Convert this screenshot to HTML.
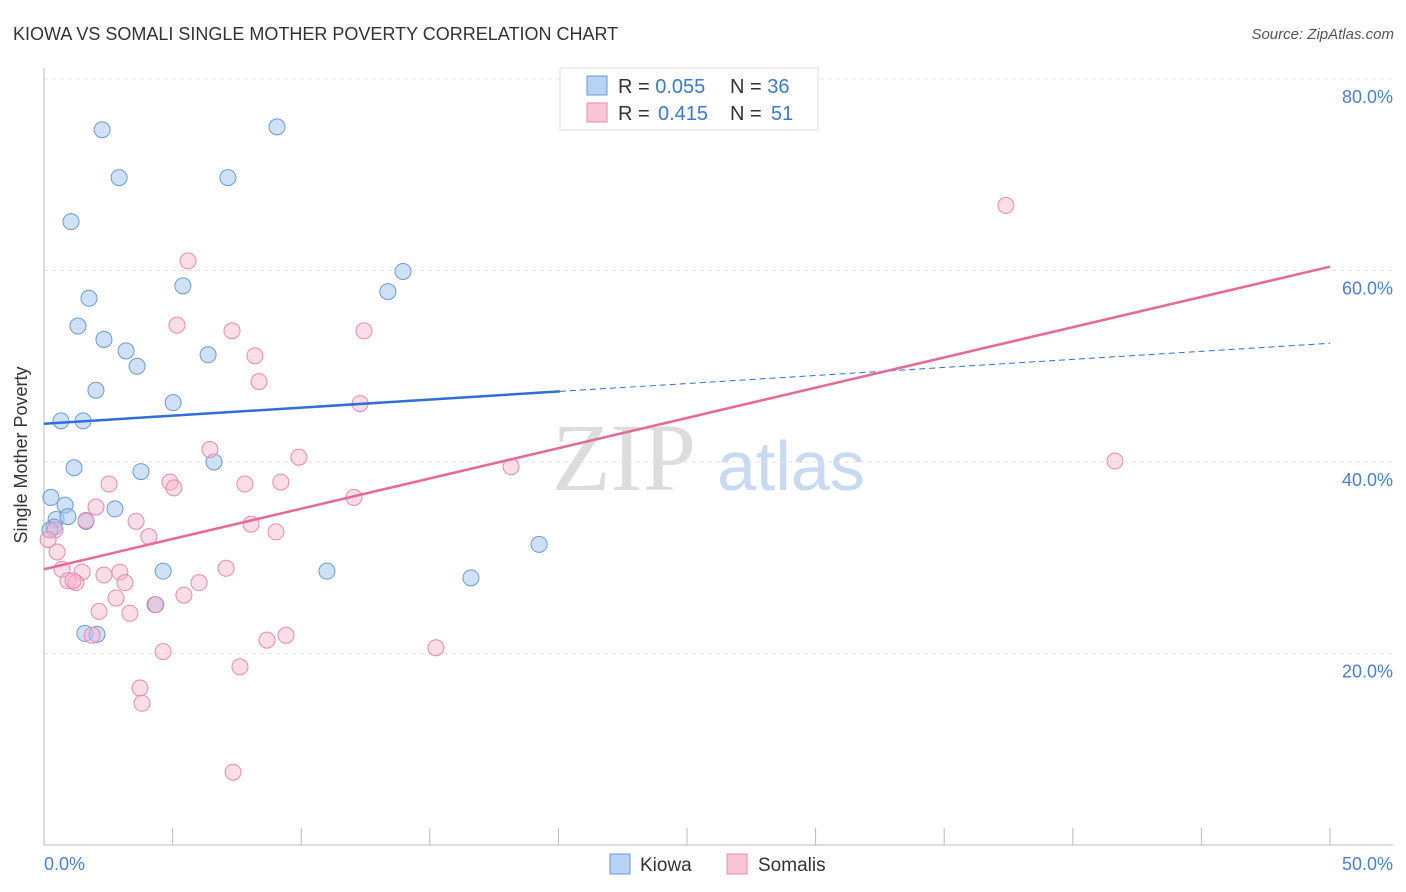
<!DOCTYPE html>
<html><head><meta charset="utf-8"><style>
body{margin:0;background:#fff;font-family:"Liberation Sans",sans-serif;}
svg{display:block}
</style></head><body>
<svg id="c" width="1406" height="892" xmlns="http://www.w3.org/2000/svg">
<text x="13" y="40" font-size="18" fill="#333">KIOWA VS SOMALI SINGLE MOTHER POVERTY CORRELATION CHART</text>
<text x="1394" y="39" font-size="15" fill="#555" font-style="italic" text-anchor="end">Source: ZipAtlas.com</text>
<g>
<text x="552" y="490" font-family="Liberation Serif,serif" font-size="96" fill="#dcdcdc">ZIP</text>
<text x="717" y="490" font-size="70" fill="#c9daf0">atlas</text>
</g>
<g id="grid"></g>
<line x1="44" y1="68" x2="44" y2="845" stroke="#bbb"/>
<line x1="44" y1="845" x2="1393" y2="845" stroke="#bbb"/>
<g id="ticks"></g>
<text x="27" y="455" font-size="18" fill="#333" text-anchor="middle" transform="rotate(-90 27 455)">Single Mother Poverty</text>
<text x="44" y="870" font-size="18" fill="#4a7fd4">0.0%</text>
<text x="1393" y="870" font-size="18" fill="#4a7fd4" text-anchor="end">50.0%</text>
<g id="pts"></g>
<g id="lines"></g>
<g>
<rect x="560" y="68" width="258" height="62" fill="#fff" stroke="#ddd"/>
<rect x="587" y="76" width="20" height="19" fill="#b8d2f4" stroke="#6a9ad8"/>
<rect x="587" y="103" width="20" height="19" fill="#f8c6d6" stroke="#e88aab"/>
<text x="618" y="93" font-size="20" fill="#333">R = <tspan fill="#3a78d6">0.055</tspan><tspan x="730">N = </tspan><tspan fill="#3a78d6">36</tspan></text>
<text x="618" y="120" font-size="20" fill="#333">R = <tspan fill="#3a78d6" x="658">0.415</tspan><tspan x="730">N = </tspan><tspan fill="#3a78d6" x="771">51</tspan></text>
</g>
<g>
<rect x="610" y="854" width="20" height="20" fill="#b8d2f4" stroke="#6a9ad8"/>
<text x="640" y="871" font-size="19" fill="#333">Kiowa</text>
<rect x="727" y="854" width="20" height="20" fill="#f8c6d6" stroke="#e88aab"/>
<text x="758" y="871" font-size="19" fill="#333">Somalis</text>
</g>
</svg>
<script>
const yTicks=[20,40,60,80];
const yTickLabels=["20.0%","40.0%","60.0%","80.0%"];
const xTicks=[0,5,10,15,20,25,30,35,40,45,50];
const kiowaX=[2.26,9.06,2.92,7.15,1.05,13.96,5.40,1.75,13.37,1.32,2.33,3.19,3.62,6.38,2.02,5.02,0.66,1.52,1.17,6.61,3.77,0.27,0.82,2.76,0.47,0.93,1.63,0.39,19.25,4.63,11.0,16.6,4.32,1.59,2.06,0.23];
const kiowaY=[74.7,75.0,69.7,69.7,65.1,59.9,58.4,57.1,57.8,54.2,52.8,51.6,50.0,51.2,47.5,46.2,44.3,44.3,39.4,40.0,39.0,36.3,35.5,35.1,34.0,34.3,33.8,33.2,31.4,28.6,28.6,27.9,25.1,22.1,22.0,32.9];
const somaliX=[37.4,5.6,5.17,7.31,12.44,8.2,8.36,12.29,6.45,9.91,18.16,41.64,2.53,4.9,5.05,7.81,9.21,12.05,2.02,3.58,8.05,9.02,4.08,1.63,0.51,0.43,0.7,1.48,2.33,2.95,7.08,0.93,1.24,1.13,3.15,6.03,5.44,2.8,2.14,3.34,4.35,1.87,9.41,8.67,4.63,15.24,7.62,3.73,3.81,7.35,0.16];
const somaliY=[66.8,61.0,54.3,53.7,53.7,51.1,48.4,46.1,41.3,40.5,39.5,40.1,37.7,37.9,37.3,37.7,37.9,36.3,35.3,33.8,33.5,32.7,32.2,33.9,30.6,32.9,28.8,28.5,28.2,28.5,28.9,27.6,27.4,27.6,27.4,27.4,26.1,25.8,24.4,24.2,25.1,21.9,21.9,21.4,20.2,20.6,18.6,16.4,14.8,7.6,31.9];
const kiowaTrend=[44.0,52.4];
const somaliTrend=[28.8,60.4];
const kiowaSolidEnd=20.06;
const NS="http://www.w3.org/2000/svg";
const X=v=>44+v*25.72, Y=v=>845-v*9.575;
function mk(t,a,p){const e=document.createElementNS(NS,t);for(const k in a)e.setAttribute(k,a[k]);p.appendChild(e);return e;}
const grid=document.getElementById('grid'),ticks=document.getElementById('ticks'),pts=document.getElementById('pts'),lines=document.getElementById('lines');
yTicks.forEach((v,i)=>{
 const l=mk('line',{x1:44,x2:1393,y1:Y(v),y2:Y(v),stroke:'#e2e2e2','stroke-dasharray':'4,4'},grid);
 
 
 const t=mk('text',{x:1393,y:Y(v)+24,'font-size':18,fill:'#4a7fd4','text-anchor':'end'},ticks);
 t.textContent=yTickLabels[i];
 
 
});
xTicks.forEach(v=>{
 const l=mk('line',{x1:X(v),x2:X(v),y1:828,y2:845,stroke:'#bbb'},ticks);
 
 
});
kiowaX.forEach((v,i)=>{
 const c=mk('circle',{cx:X(v),cy:Y(kiowaY[i]),r:8,fill:'rgba(160,196,240,0.5)',stroke:'#6a9ad8','stroke-width':1},pts);
 
 
});
somaliX.forEach((v,i)=>{
 const c=mk('circle',{cx:X(v),cy:Y(somaliY[i]),r:8,fill:'rgba(246,180,204,0.45)',stroke:'#e88aab','stroke-width':1},pts);
 
 
});
const ky=x=>kiowaTrend[0]+(kiowaTrend[1]-kiowaTrend[0])*x/50;
let l1=mk('line',{x1:X(0),y1:Y(ky(0)),x2:X(kiowaSolidEnd),y2:Y(ky(kiowaSolidEnd)),stroke:'#2f6fd6','stroke-width':2.5},lines);


let l2=mk('line',{x1:X(kiowaSolidEnd),y1:Y(ky(kiowaSolidEnd)),x2:X(50),y2:Y(ky(50)),stroke:'#2f6fd6','stroke-width':1,'stroke-dasharray':'6,4'},lines);


let l3=mk('line',{x1:X(0),y1:Y(somaliTrend[0]),x2:X(50),y2:Y(somaliTrend[1]),stroke:'#e5699a','stroke-width':2.5},lines);


</script>
</body></html>
